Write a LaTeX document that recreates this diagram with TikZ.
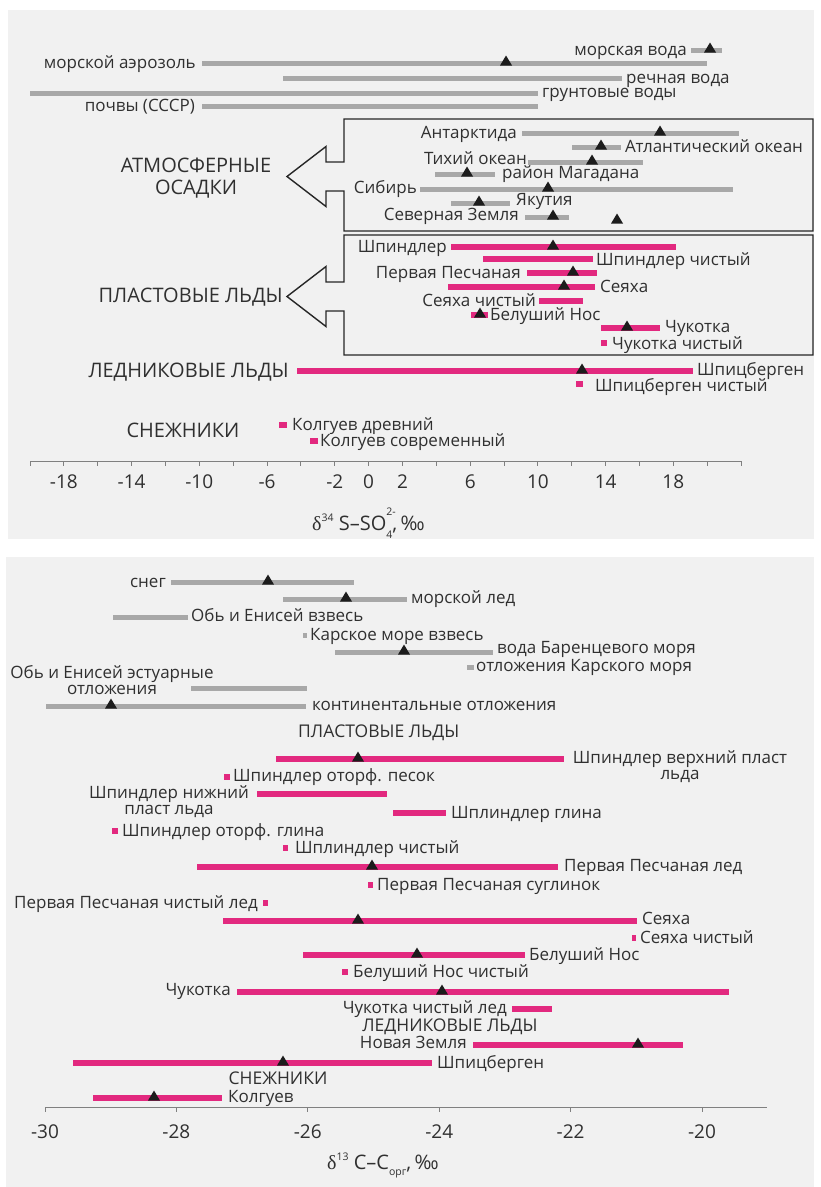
\documentclass[tikz,border=0pt]{standalone}
\usepackage{fontspec}
\setmainfont{Open Sans}
\newfontfamily\grk{Liberation Serif}
\definecolor{bgc}{HTML}{F1F1F1}
\definecolor{grayb}{HTML}{A8A8A8}
\definecolor{pinkb}{HTML}{E2297F}
\definecolor{txt}{HTML}{303030}
\definecolor{trif}{HTML}{1C1C1C}
\definecolor{axc}{HTML}{808080}
\newcommand\graybar[3]{\draw[gbar] (#1,#3) -- (#2,#3);}
\newcommand\pinkbar[3]{\draw[pbar] (#1,#3) -- (#2,#3);}
\newcommand\mytri[2]{\fill[trif] (#1-6,#2+2.5) -- (#1+6,#2+2.5) -- (#1,#2-7.5) -- cycle;}
\newcommand\smallfs{\fontsize{10.5}{10.5}\selectfont}
\begin{document}
\begin{tikzpicture}[x=1pt,y=-1pt,
  gbar/.style={line width=5pt,draw=grayb},
  pbar/.style={line width=5.5pt,draw=pinkb},
  lbl/.style={font=\fontsize{17}{17}\selectfont,text=txt,inner sep=0pt},
  headA/.style={font=\fontsize{20}{22}\selectfont,text=txt,inner sep=0pt,align=center},
  headB/.style={font=\fontsize{17.5}{18}\selectfont,text=txt,inner sep=0pt,align=center},
  axnum/.style={font=\fontsize{19}{19}\selectfont,text=txt,inner sep=0pt},
  axtitle/.style={font=\fontsize{20}{20}\selectfont,text=txt,inner sep=0pt},
  frame/.style={draw=black!85,line width=1.4pt,line join=miter},
  axis/.style={draw=axc,line width=1pt}]
\useasboundingbox (0,0) rectangle (820,1187);
\fill[white] (0,0) rectangle (820,1187);
\fill[bgc] (8,10) rectangle (814,539);
\fill[bgc] (6,557) rectangle (814,1187);

% ---------- TOP PANEL ----------
\draw[frame] (344,119) -- (813,119) -- (813,231) -- (344,231) -- (344,191) -- (326,191) -- (326,206.5) -- (287,176.5) -- (326,146.5) -- (326,162) -- (344,162) -- cycle;
\draw[frame] (344,235) -- (813,235) -- (813,355) -- (344,355) -- (344,311) -- (326,311) -- (326,326.5) -- (287,296.5) -- (326,266.5) -- (326,282) -- (344,282) -- cycle;

\graybar{691}{722}{50} \mytri{710}{50}
\node[lbl,anchor=base east] (mv) at (687,55) {морская вода};
\graybar{202}{707}{63} \mytri{506}{63}
\node[lbl,anchor=base east] (ma) at (196,68) {морской аэрозоль};
\graybar{283}{622}{78}
\node[lbl,anchor=base west] (rv) at (626,83) {речная вода};
\graybar{30}{538}{93}
\node[lbl,anchor=base west] (gv) at (542,97) {грунтовые воды};
\graybar{202}{538}{106}
\node[lbl,anchor=base east] (pc) at (195,111) {почвы (СССР)};

\node[headA] (atm) at (196,178) {АТМОСФЕРНЫЕ\\ОСАДКИ};
\graybar{522}{739}{133} \mytri{660}{133}
\node[lbl,anchor=base east] (ant) at (517,138) {Антарктида};
\graybar{572}{621}{147} \mytri{601}{147}
\node[lbl,anchor=base west] (atl) at (625,152) {Атлантический океан};
\graybar{528}{643}{162} \mytri{592}{162}
\node[lbl,anchor=base east] (tih) at (527,164) {Тихий океан};
\graybar{435}{495}{174} \mytri{467}{174}
\node[lbl,anchor=base west] (mag) at (502,178) {район Магадана};
\graybar{420}{733}{189} \mytri{548}{189}
\node[lbl,anchor=base east] (sib) at (417,193) {Сибирь};
\graybar{451}{510}{203} \mytri{479}{203}
\node[lbl,anchor=base west] (yak) at (516,205) {Якутия};
\graybar{525}{569}{217} \mytri{553}{217}
\node[lbl,anchor=base east] (sz) at (519,220) {Северная Земля};
\mytri{617}{221}

\node[headA,anchor=east] (plA) at (283,297) {ПЛАСТОВЫЕ ЛЬДЫ};
\pinkbar{451}{676}{247} \mytri{553}{247}
\node[lbl,anchor=base east] (shp) at (447,252) {Шпиндлер};
\pinkbar{483}{593}{259}
\node[lbl,anchor=base west] (shpc) at (596,265) {Шпиндлер чистый};
\pinkbar{527}{597}{273} \mytri{573}{273}
\node[lbl,anchor=base east] (pp) at (521,278) {Первая Песчаная};
\pinkbar{448}{595}{287} \mytri{564}{287}
\node[lbl,anchor=base west] (sey) at (600,292) {Сеяха};
\pinkbar{539}{583}{301}
\node[lbl,anchor=base east] (seyc) at (536,306) {Сеяха чистый};
\pinkbar{471}{488}{315} \mytri{480}{315}
\node[lbl,anchor=base west] (bn) at (490,320) {Белуший Нос};
\pinkbar{601}{660}{328} \mytri{627}{328}
\node[lbl,anchor=base west] (chu) at (665,332) {Чукотка};
\pinkbar{601}{607}{343}
\node[lbl,anchor=base west] (chuc) at (612,349) {Чукотка чистый};

\node[headA,anchor=east] (ledA) at (289,372) {ЛЕДНИКОВЫЕ ЛЬДЫ};
\pinkbar{297}{693}{371} \mytri{582}{371}
\node[lbl,anchor=base west] (spi) at (697,375) {Шпицберген};
\pinkbar{576}{583}{384}
\node[lbl,anchor=base west] (spic) at (595,391) {Шпицберген чистый};

\node[headA] (snA) at (183,430) {СНЕЖНИКИ};
\pinkbar{279}{287}{425}
\node[lbl,anchor=base west] (kold) at (292,430) {Колгуев древний};
\pinkbar{310}{318}{441}
\node[lbl,anchor=base west] (kols) at (320,446) {Колгуев современный};

\draw[axis] (30,461) -- (741,461);
\foreach \v in {-20,-18,...,22} \draw[axis] ({30+(\v+20)*16.93},461) -- ({30+(\v+20)*16.93},466);
\foreach \v in {-18,-14,-10,-6,-2,0,2,6,10,14,18}
  \node[axnum] (t\v) at ({30+(\v+20)*16.93},482) {\ifnum\v<0 -\number\numexpr-\v\relax\else\v\fi};
\node[axtitle,anchor=base west] (xtA) at (312,530) {{\grk δ}\raisebox{0.75ex}{\smallfs 34} S–SO\makebox[0pt][l]{\raisebox{1.4ex}{\smallfs 2-}}\raisebox{-0.8ex}{\smallfs 4},\,‰};

% ---------- BOTTOM PANEL ----------
\graybar{171}{354}{582} \mytri{268}{582}
\node[lbl,anchor=base east] (sn) at (166,587) {снег};
\graybar{283}{407}{599} \mytri{346}{599}
\node[lbl,anchor=base west] (ml) at (411,603) {морской лед};
\graybar{113}{188}{617}
\node[lbl,anchor=base west] (oev) at (191,621) {Обь и Енисей взвесь};
\graybar{303}{307}{635}
\node[lbl,anchor=base west] (kmv) at (310,640) {Карское море взвесь};
\graybar{335}{493}{652} \mytri{404}{652}
\node[lbl,anchor=base west] (vbm) at (497,653) {вода Баренцевого моря};
\graybar{467}{474}{667}
\node[lbl,anchor=base west] (okm) at (476,671) {отложения Карского моря};
\node[lbl,align=center,font=\fontsize{17}{15.5}\selectfont] (oee) at (112,680) {Обь и Енисей эстуарные\\отложения};
\graybar{191}{307}{688}
\graybar{46}{306}{706} \mytri{111}{706}
\node[lbl,anchor=base west] (ko) at (312,710) {континентальные отложения};

\node[headB,anchor=west] (plB) at (298,733) {ПЛАСТОВЫЕ ЛЬДЫ};
\pinkbar{276}{564}{759} \mytri{358}{759}
\node[lbl,align=center,font=\fontsize{17}{16}\selectfont] (svp) at (680,767) {Шпиндлер верхний пласт\\льда};
\pinkbar{224}{230}{777}
\node[lbl,anchor=base west] (sop) at (233,781) {Шпиндлер оторф. песок};
\node[lbl,align=center,font=\fontsize{17}{16}\selectfont] (snp) at (169,802) {Шпиндлер нижний\\пласт льда};
\pinkbar{257}{387}{794}
\pinkbar{393}{446}{813}
\node[lbl,anchor=base west] (sgl) at (451,818) {Шплиндлер глина};
\pinkbar{112}{118}{831}
\node[lbl,anchor=base west] (sog) at (122,836) {Шпиндлер оторф. глина};
\pinkbar{283}{288}{848}
\node[lbl,anchor=base west] (sch) at (295,853) {Шплиндлер чистый};
\pinkbar{197}{558}{867} \mytri{372}{867}
\node[lbl,anchor=base west] (ppl) at (564,871) {Первая Песчаная лед};
\pinkbar{368}{373}{885}
\node[lbl,anchor=base west] (pps) at (377,890) {Первая Песчаная суглинок};
\pinkbar{263}{268}{903}
\node[lbl,anchor=base east] (ppc) at (258,908) {Первая Песчаная чистый лед};
\pinkbar{223}{637}{921} \mytri{358}{921}
\node[lbl,anchor=base west] (seB) at (642,924) {Сеяха};
\pinkbar{632}{636}{938}
\node[lbl,anchor=base west] (secB) at (640,943) {Сеяха чистый};
\pinkbar{303}{525}{955} \mytri{417}{955}
\node[lbl,anchor=base west] (bnB) at (529,960) {Белуший Нос};
\pinkbar{342}{348}{972}
\node[lbl,anchor=base west] (bncB) at (353,977) {Белуший Нос чистый};
\pinkbar{237}{729}{992} \mytri{442}{992}
\node[lbl,anchor=base east] (chB) at (231,995) {Чукотка};
\pinkbar{512}{552}{1009}
\node[lbl,anchor=base east] (chcB) at (507,1013) {Чукотка чистый лед};
\node[headB] (ledB) at (450,1027) {ЛЕДНИКОВЫЕ ЛЬДЫ};
\pinkbar{473}{683}{1045} \mytri{638}{1045}
\node[lbl,anchor=base east] (nz) at (467,1048) {Новая Земля};
\pinkbar{73}{432}{1063} \mytri{283}{1063}
\node[lbl,anchor=base west] (spB) at (437,1068) {Шпицберген};
\node[headB] (snB) at (278,1078) {СНЕЖНИКИ};
\pinkbar{93}{222}{1098} \mytri{154}{1098}
\node[lbl,anchor=base west] (kolB) at (228,1102) {Колгуев};

\draw[axis] (45,1107) -- (767,1107);
\foreach \v in {-30,-28,...,-20} \draw[axis] ({45+(\v+30)*65.7},1107) -- ({45+(\v+30)*65.7},1112);
\foreach \v in {-30,-28,...,-20}
  \node[axnum] (b\v) at ({45+(\v+30)*65.7},1132) {-\number\numexpr-\v\relax};
\node[axtitle,anchor=base west] (xtB) at (327,1169) {{\grk δ}\raisebox{0.75ex}{\smallfs 13} C–C\raisebox{-0.6ex}{\smallfs орг},\,‰};
\end{tikzpicture}
\end{document}
